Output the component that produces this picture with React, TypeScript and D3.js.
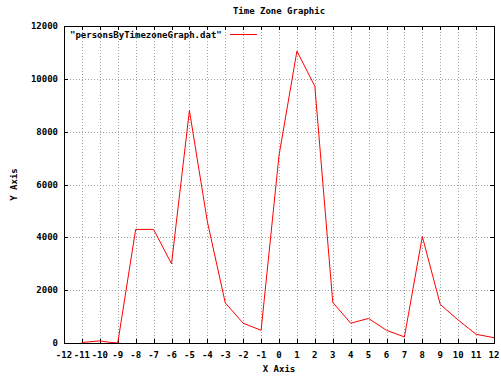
import React from "react";
import * as d3 from "d3";

// Persons per time zone (UTC offset in hours)
const zones = [-11, -10, -9.5, -9, -8, -7, -6, -5, -4, -3, -2, -1, 0, 1, 2, 3, 4, 5, 6, 7, 8, 9, 10, 11, 12];
const persons = [20, 80, 30, 0, 4300, 4300, 3000, 8800, 4600, 1520, 750, 480, 7100, 11050, 9720, 1540, 750, 930, 480, 230, 4030, 1460, 870, 330, 200];

const xTicks = d3.range(-12, 13, 1);
const yTicks = [0, 2000, 4000, 6000, 8000, 10000, 12000];

const title = "Time Zone Graphic";
const seriesName = "\"personsByTimezoneGraph.dat\"";
const xLabel = "X Axis";
const yLabel = "Y Axis";

const W = 501;
const H = 379;
const M = { left: 64, right: 494, top: 26, bottom: 343 };
const FONT = "'DejaVu Sans Mono', monospace";

export default function App() {
  const x = d3.scaleLinear().domain([-12, 12]).range([M.left, M.right]);
  const y = d3.scaleLinear().domain([0, 12000]).range([M.bottom, M.top]);
  const line = d3
    .line<number>()
    .x((_, i) => x(zones[i]))
    .y((d) => y(d));

  const tick = 4;
  const px = (v: number) => Math.round(v) + 0.5;

  return (
    <svg
      width={W}
      height={H}
      style={{ position: "absolute", left: 0, top: 0, background: "#fff" }}
      fontFamily={FONT}
      fontWeight="bold"
      fontSize={9}
    >
      <rect x={0} y={0} width={W} height={H} fill="#fff" />
      {/* grid */}
      <g stroke="#a0a0a0" strokeWidth={1} strokeDasharray="1,2" shapeRendering="crispEdges">
        {xTicks.slice(1, -1).map((t) => (
          <line key={"gx" + t} x1={px(x(t))} x2={px(x(t))} y1={M.top} y2={M.bottom} />
        ))}
        {yTicks.slice(1, -1).map((t) => (
          <line key={"gy" + t} x1={M.left} x2={M.right} y1={px(y(t))} y2={px(y(t))} />
        ))}
      </g>
      {/* ticks on all four sides */}
      <g stroke="#000" strokeWidth={1} shapeRendering="crispEdges">
        {xTicks.map((t) => (
          <g key={"tx" + t}>
            <line x1={px(x(t))} x2={px(x(t))} y1={M.bottom} y2={M.bottom - tick} />
            <line x1={px(x(t))} x2={px(x(t))} y1={M.top} y2={M.top + tick} />
          </g>
        ))}
        {yTicks.map((t) => (
          <g key={"ty" + t}>
            <line x1={M.left} x2={M.left + tick} y1={px(y(t))} y2={px(y(t))} />
            <line x1={M.right} x2={M.right - tick} y1={px(y(t))} y2={px(y(t))} />
          </g>
        ))}
      </g>
      {/* data */}
      <path d={line(persons) || ""} fill="none" stroke="#ff0000" strokeWidth={1} />
      {/* frame */}
      <rect
        x={px(M.left)}
        y={px(M.top)}
        width={Math.round(M.right - M.left)}
        height={Math.round(M.bottom - M.top)}
        fill="none"
        stroke="#000"
        shapeRendering="crispEdges"
      />
      {/* tick labels */}
      {yTicks.map((t) => (
        <text key={"ly" + t} x={58} y={y(t) + 3} textAnchor="end">
          {t}
        </text>
      ))}
      {xTicks.map((t) => (
        <text key={"lx" + t} x={x(t)} y={358} textAnchor="middle">
          {t}
        </text>
      ))}
      {/* legend */}
      <text x={70} y={38}>{seriesName}</text>
      <line x1={230} x2={257} y1={34.5} y2={34.5} stroke="#ff0000" strokeWidth={1} />
      {/* titles */}
      <text x={(M.left + M.right) / 2} y={14} textAnchor="middle">{title}</text>
      <text x={(M.left + M.right) / 2} y={372} textAnchor="middle">{xLabel}</text>
      <text
        transform={`translate(17,${(M.top + M.bottom) / 2}) rotate(-90)`}
        textAnchor="middle"
      >
        {yLabel}
      </text>
    </svg>
  );
}
